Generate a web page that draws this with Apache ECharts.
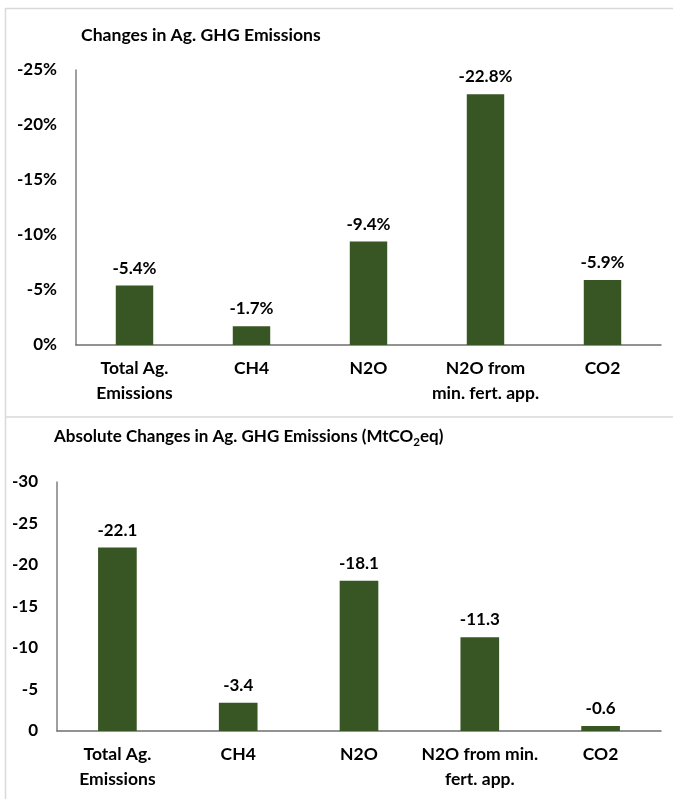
<!DOCTYPE html>
<html>
<head>
<meta charset="utf-8">
<script src="https://cdn.jsdelivr.net/npm/echarts@6/dist/echarts.min.js"></script>
<style>
  html, body { margin: 0; padding: 0; background: #fff; }
  #chart { width: 673px; height: 799px; }
</style>
</head>
<body>
<div id="chart"></div>
<script>
// Categories for each panel (line breaks as in the axis labels)
const pctCategories = ['Total Ag.\nEmissions', 'CH4', 'N2O', 'N2O from\nmin. fert. app.', 'CO2'];
const absCategories = ['Total Ag.\nEmissions', 'CH4', 'N2O', 'N2O from min.\nfert. app.', 'CO2'];

// Percentage change in agricultural GHG emissions
const pctChange = [-5.4, -1.7, -9.4, -22.8, -5.9];
// Absolute change in agricultural GHG emissions, MtCO2eq
const absChange = [-22.1, -3.4, -18.1, -11.3, -0.6];

// Axis ranges
const pctAxis = { min: -25, max: 0, interval: 5 };
const absAxis = { min: -30, max: 0, interval: 5 };

const FONT = 'Lato';
const BAR = '#375623';
const TXT = '#000000';
const FS = 17;

const chart = echarts.init(document.getElementById('chart'), null, { renderer: 'canvas' });

function yAxis(gridIndex, range, fmt) {
  return {
    type: 'value', gridIndex, inverse: true,
    min: range.min, max: range.max, interval: range.interval,
    axisLine: { show: true, lineStyle: { color: '#7f7f7f', width: 1.5 } },
    axisTick: { show: false },
    splitLine: { show: false },
    axisLabel: { formatter: fmt, color: TXT, fontFamily: FONT, fontWeight: 'bold', fontSize: FS, margin: 19 }
  };
}
function xAxis(gridIndex, cats) {
  return {
    type: 'category', gridIndex, data: cats,
    axisLine: { show: true, lineStyle: { color: '#6f6f6f', width: 1.5 } },
    axisTick: { show: false },
    axisLabel: { interval: 0, color: TXT, fontFamily: FONT, fontWeight: 'bold', fontSize: 17.5, lineHeight: 25, margin: 11 }
  };
}
function barSeries(idx, data, fmt) {
  return {
    type: 'bar', xAxisIndex: idx, yAxisIndex: idx, data,
    barWidth: '32%',
    itemStyle: { color: BAR },
    label: { show: true, position: 'top', distance: 9, formatter: fmt,
             color: TXT, fontFamily: FONT, fontWeight: 'bold', fontSize: FS }
  };
}

chart.setOption({
  animation: false,
  backgroundColor: '#ffffff',
  title: [
    { text: 'Changes in Ag. GHG Emissions', left: 81, top: 26, padding: 0,
      textStyle: { color: TXT, fontFamily: FONT, fontWeight: 'bold', fontSize: 17.6 } },
    { text: '{m|Absolute Changes in Ag. GHG Emissions (MtCO}{s|2}{m|eq)}', left: 54, top: 426, padding: 0,
      textStyle: { rich: {
        m: { color: TXT, fontFamily: FONT, fontWeight: 'bold', fontSize: 17, lineHeight: 22 },
        s: { color: TXT, fontFamily: FONT, fontWeight: 'bold', fontSize: 11.5, lineHeight: 10, verticalAlign: 'bottom' }
      } } }
  ],
  grid: [
    { left: 76, right: 12, top: 70, bottom: 454 },
    { left: 57, right: 12, top: 482, bottom: 68 }
  ],
  xAxis: [xAxis(0, pctCategories), xAxis(1, absCategories)],
  yAxis: [yAxis(0, pctAxis, '{value}%'), yAxis(1, absAxis, '{value}')],
  series: [
    barSeries(0, pctChange, p => p.value.toFixed(1) + '%'),
    barSeries(1, absChange, p => p.value.toFixed(1))
  ],
  graphic: [
    // panel frame lines
    { type: 'line', shape: { x1: 5.5, y1: 8, x2: 5.5, y2: 799 }, style: { stroke: '#d9d9d9', lineWidth: 1.5 } },
    { type: 'line', shape: { x1: 5, y1: 8.5, x2: 673, y2: 8.5 }, style: { stroke: '#d9d9d9', lineWidth: 1.5 } },
    { type: 'line', shape: { x1: 5, y1: 417, x2: 673, y2: 417 }, style: { stroke: '#d9d9d9', lineWidth: 1.5 } }
  ]
});
</script>
</body>
</html>
